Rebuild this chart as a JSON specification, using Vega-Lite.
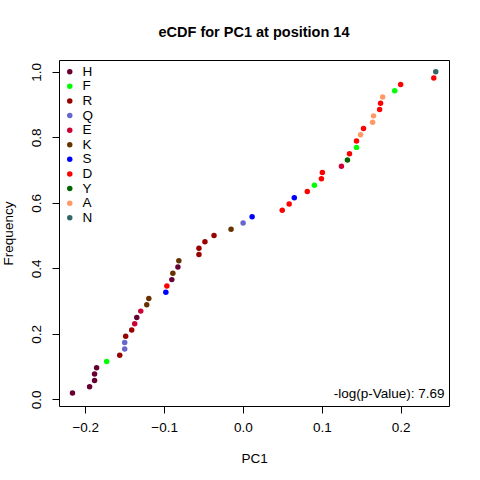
{
  "$schema": "https://vega.github.io/schema/vega-lite/v6.json",
  "width": 390,
  "height": 346,
  "autosize": "none",
  "padding": {"left": 59, "top": 60, "right": 31, "bottom": 74},
  "background": "white",
  "title": {
    "text": "eCDF for PC1 at position 14",
    "font": "Liberation Sans",
    "fontSize": 14.5,
    "fontWeight": "bold",
    "color": "black",
    "anchor": "middle",
    "offset": 20
  },
  "layer": [
    {
      "data": {
        "values": [
          {"aa": "H", "pc1": -0.2162, "freq": 0.0192},
          {"aa": "H", "pc1": -0.1945, "freq": 0.0385},
          {"aa": "H", "pc1": -0.1882, "freq": 0.0577},
          {"aa": "H", "pc1": -0.1882, "freq": 0.0769},
          {"aa": "H", "pc1": -0.1856, "freq": 0.0962},
          {"aa": "F", "pc1": -0.1729, "freq": 0.1154},
          {"aa": "R", "pc1": -0.1563, "freq": 0.1346},
          {"aa": "Q", "pc1": -0.15, "freq": 0.1538},
          {"aa": "Q", "pc1": -0.15, "freq": 0.1731},
          {"aa": "R", "pc1": -0.1487, "freq": 0.1923},
          {"aa": "R", "pc1": -0.1411, "freq": 0.2115},
          {"aa": "E", "pc1": -0.1373, "freq": 0.2308},
          {"aa": "H", "pc1": -0.1347, "freq": 0.25},
          {"aa": "E", "pc1": -0.1296, "freq": 0.2692},
          {"aa": "K", "pc1": -0.122, "freq": 0.2885},
          {"aa": "K", "pc1": -0.1194, "freq": 0.3077},
          {"aa": "S", "pc1": -0.0978, "freq": 0.3269},
          {"aa": "D", "pc1": -0.0965, "freq": 0.3462},
          {"aa": "H", "pc1": -0.0902, "freq": 0.3654},
          {"aa": "K", "pc1": -0.0889, "freq": 0.3846},
          {"aa": "H", "pc1": -0.0825, "freq": 0.4038},
          {"aa": "K", "pc1": -0.0813, "freq": 0.4231},
          {"aa": "R", "pc1": -0.0558, "freq": 0.4423},
          {"aa": "R", "pc1": -0.0558, "freq": 0.4615},
          {"aa": "R", "pc1": -0.0482, "freq": 0.4808},
          {"aa": "R", "pc1": -0.0367, "freq": 0.5},
          {"aa": "K", "pc1": -0.0151, "freq": 0.5192},
          {"aa": "Q", "pc1": 0.0002, "freq": 0.5385},
          {"aa": "S", "pc1": 0.0116, "freq": 0.5577},
          {"aa": "D", "pc1": 0.0498, "freq": 0.5769},
          {"aa": "D", "pc1": 0.0586, "freq": 0.5962},
          {"aa": "S", "pc1": 0.0651, "freq": 0.6154},
          {"aa": "D", "pc1": 0.0816, "freq": 0.6346},
          {"aa": "F", "pc1": 0.0906, "freq": 0.6538},
          {"aa": "D", "pc1": 0.0995, "freq": 0.6731},
          {"aa": "D", "pc1": 0.1007, "freq": 0.6923},
          {"aa": "E", "pc1": 0.1249, "freq": 0.7115},
          {"aa": "Y", "pc1": 0.1325, "freq": 0.7308},
          {"aa": "D", "pc1": 0.1351, "freq": 0.75},
          {"aa": "F", "pc1": 0.144, "freq": 0.7692},
          {"aa": "D", "pc1": 0.144, "freq": 0.7885},
          {"aa": "A", "pc1": 0.1491, "freq": 0.8077},
          {"aa": "D", "pc1": 0.1529, "freq": 0.8269},
          {"aa": "A", "pc1": 0.1644, "freq": 0.8462},
          {"aa": "A", "pc1": 0.1656, "freq": 0.8654},
          {"aa": "D", "pc1": 0.1733, "freq": 0.8846},
          {"aa": "D", "pc1": 0.1745, "freq": 0.9038},
          {"aa": "A", "pc1": 0.1771, "freq": 0.9231},
          {"aa": "F", "pc1": 0.1924, "freq": 0.9423},
          {"aa": "D", "pc1": 0.2, "freq": 0.9615},
          {"aa": "D", "pc1": 0.242, "freq": 0.9808},
          {"aa": "N", "pc1": 0.2445, "freq": 1.0}
        ]
      },
      "mark": {"type": "circle", "size": 30, "opacity": 1},
      "encoding": {
        "x": {
          "field": "pc1",
          "type": "quantitative",
          "scale": {"domain": [-0.2333, 0.2613], "nice": false, "zero": false},
          "axis": {
            "title": "PC1",
            "values": [-0.2, -0.1, 0, 0.1, 0.2],
            "format": ".1f",
            "grid": false,
            "domain": false,
            "tickSize": 7,
            "tickColor": "black",
            "labelPadding": 7,
            "labelColor": "black",
            "labelFontSize": 13.5,
            "titleFontSize": 13.5,
            "titleFontWeight": "normal",
            "titleColor": "black",
            "titlePadding": 18
          }
        },
        "y": {
          "field": "freq",
          "type": "quantitative",
          "scale": {"domain": [-0.0205, 1.036], "nice": false, "zero": false},
          "axis": {
            "title": "Frequency",
            "values": [0, 0.2, 0.4, 0.6, 0.8, 1.0],
            "format": ".1f",
            "grid": false,
            "domain": false,
            "tickSize": 7,
            "tickColor": "black",
            "labelAngle": -90,
            "labelAlign": "center",
            "labelBaseline": "bottom",
            "labelPadding": 9,
            "labelColor": "black",
            "labelFontSize": 13.5,
            "titleFontSize": 13.5,
            "titleFontWeight": "normal",
            "titleColor": "black",
            "titlePadding": 14
          }
        },
        "color": {
          "field": "aa",
          "type": "nominal",
          "scale": {
            "domain": ["H", "F", "R", "Q", "E", "K", "S", "D", "Y", "A", "N"],
            "range": ["#660033", "#00FF00", "#990000", "#6666CC", "#CC0033", "#663300", "#0000FF", "#FF0000", "#006600", "#FF9966", "#336666"]
          },
          "legend": {
            "title": null,
            "orient": "none",
            "legendX": 4,
            "legendY": 5,
            "padding": 0,
            "symbolType": "circle",
            "symbolSize": 30,
            "symbolStrokeWidth": 0,
            "labelFontSize": 13.5,
            "labelColor": "black",
            "labelOffset": 6,
            "rowPadding": -0.4
          }
        }
      }
    },
    {
      "data": {"values": [{"pc1": 0.2556, "freq": 0.016, "label": "-log(p-Value): 7.69"}]},
      "mark": {"type": "text", "align": "right", "baseline": "middle", "fontSize": 13.5, "font": "Liberation Sans", "color": "black"},
      "encoding": {
        "x": {"field": "pc1", "type": "quantitative"},
        "y": {"field": "freq", "type": "quantitative"},
        "text": {"field": "label"}
      }
    }
  ],
  "config": {
    "font": "Liberation Sans",
    "view": {"stroke": "black", "strokeWidth": 1},
    "axis": {"labelFont": "Liberation Sans", "titleFont": "Liberation Sans"},
    "legend": {"labelFont": "Liberation Sans"}
  }
}
